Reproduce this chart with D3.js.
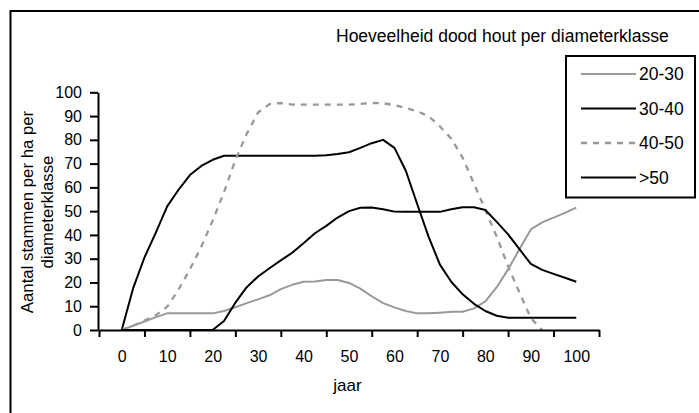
<!DOCTYPE html>
<html>
<head>
<meta charset="utf-8">
<script src="https://cdn.jsdelivr.net/npm/d3@7"></script>
<style>
  html, body { margin: 0; padding: 0; background: #fff; }
  svg { display: block; font-family: "Liberation Sans", Arial, sans-serif; }
</style>
</head>
<body>
<svg id="chart" width="699" height="413"></svg>
<script>
// Years (x) shared by all diameter classes
const years = [0, 2.5, 5, 7.5, 10, 12.5, 15, 17.5, 20, 22.5, 25, 27.5, 30, 32.5, 35, 37.5, 40, 42.5, 45, 47.5,
  50, 52.5, 55, 57.5, 60, 62.5, 65, 67.5, 70, 72.5, 75, 77.5, 80, 82.5, 85, 87.5, 90, 92.5, 95, 97.5, 100];

// Number of dead stems per ha, per diameter class (null = no value)
const class2030 = [0, 1.8, 3.6, 5.4, 7, 7, 7, 7, 7, 8, 9.6, 11.3, 12.9, 14.6, 17.2, 19, 20.3, 20.4, 21, 21,
  19.8, 17.4, 14.2, 11.3, 9.5, 8, 7, 7, 7.3, 7.7, 7.7, 9.1, 12, 18, 25.5, 34, 42.3, 45.3, 47.3, 49.3, 51.5];
const class3040 = [0, 17.5, 30.5, 41, 52, 59, 65.2, 69, 71.6, 73.3, 73.3, 73.3, 73.3, 73.3, 73.3, 73.3, 73.3, 73.3, 73.5, 74,
  74.8, 76.6, 78.6, 80, 76.6, 67, 53, 39.3, 27.5, 20.3, 15, 11, 8, 6, 5.2, 5.2, 5.2, 5.2, 5.2, 5.2, 5.2];
const class4050 = [0, 1.8, 4, 6.2, 9.8, 17, 25.5, 35, 46, 58, 71.5, 82.5, 91.5, 95, 95.5, 94.8, 94.8, 94.8, 94.8, 94.8,
  94.8, 95.1, 95.5, 95.4, 94.6, 93.4, 92, 90, 85.7, 80.5, 72.5, 61.5, 50.5, 39.3, 26.8, 15.8, 5, 0, null, null, null];
const class50plus = [0, 0, 0, 0, 0, 0, 0, 0, 0, 3.8, 11.5, 18, 22.5, 26, 29.3, 32.5, 36.5, 40.7, 43.8, 47.3,
  50, 51.4, 51.5, 50.8, 49.8, 49.7, 49.7, 49.7, 49.7, 50.8, 51.6, 51.6, 50.5, 45.5, 40.2, 34, 27.8, 25.3, 23.6, 22, 20.3];

const seriesNames = ["20-30", "30-40", "40-50", ">50"];
const seriesValues = [class2030, class3040, class4050, class50plus];

const xTickLabels = [0, 10, 20, 30, 40, 50, 60, 70, 80, 90, 100];
const yTickLabels = [0, 10, 20, 30, 40, 50, 60, 70, 80, 90, 100];

const titleText = "Hoeveelheid dood hout per diameterklasse";
const yTitleLines = ["Aantal stammen per ha per", "diameterklasse"];
const xTitleText = "jaar";

// Line styles per class
const styles = [
  { color: "#999999", dash: null },
  { color: "#000000", dash: null },
  { color: "#999999", dash: "6,6" },
  { color: "#000000", dash: null }
];

const svg = d3.select("#chart");

// Outer chart border (runs off the right and bottom edges)
svg.append("rect")
  .attr("x", 10.5).attr("y", 11)
  .attr("width", 720).attr("height", 430)
  .attr("fill", "#fff").attr("stroke", "#000").attr("stroke-width", 2);

const x = d3.scaleLinear().domain([-5, 105]).range([99, 599]);
const y = d3.scaleLinear().domain([0, 100]).range([330, 92.3]);

// Series
const line = d3.line()
  .defined(d => d != null)
  .x((d, i) => x(years[i]))
  .y(d => y(d));
const series = seriesNames.map((name, k) => ({ name, values: seriesValues[k], style: styles[k] }));

svg.append("g").selectAll("path").data(series).join("path")
  .attr("d", d => line(d.values))
  .attr("fill", "none")
  .attr("stroke", d => d.style.color)
  .attr("stroke-width", d => d.style.dash ? 2.3 : 2)
  .attr("stroke-dasharray", d => d.style.dash)
  .attr("stroke-linejoin", "round");

// Y axis
const yAxis = svg.append("g")
  .attr("transform", `translate(${x(-5) - 1},0)`)
  .call(d3.axisLeft(y).tickValues(yTickLabels).tickSize(8).tickSizeOuter(0).tickPadding(8));
yAxis.selectAll("path, line").attr("stroke", "#000").attr("stroke-width", 2);
yAxis.selectAll("text").attr("font-size", 16).attr("fill", "#000")
  .attr("font-family", "'Liberation Sans', Arial, sans-serif");

// X axis: tick marks between the year categories, labels centred
const xEdges = d3.range(-5, 106, 10);
const xAxis = svg.append("g")
  .attr("transform", `translate(0,${y(0)})`)
  .call(d3.axisBottom(x).tickValues(xEdges).tickSize(7).tickSizeOuter(0).tickFormat(""));
xAxis.selectAll("path, line").attr("stroke", "#000").attr("stroke-width", 2);

const xLabels = svg.append("g")
  .attr("transform", `translate(0,${y(0)})`)
  .call(d3.axisBottom(x).tickValues(xTickLabels).tickSize(0).tickPadding(21));
xLabels.select(".domain").remove();
xLabels.selectAll("text").attr("font-size", 16).attr("fill", "#000")
  .attr("font-family", "'Liberation Sans', Arial, sans-serif");

// Titles
svg.append("text")
  .attr("x", 336).attr("y", 42)
  .attr("font-size", 17.5).attr("fill", "#000")
  .text(titleText);

svg.append("text")
  .attr("x", 347.5).attr("y", 391)
  .attr("text-anchor", "middle")
  .attr("font-size", 17).attr("fill", "#000")
  .text(xTitleText);

const yTitle = svg.append("text")
  .attr("transform", "translate(27,212) rotate(-90)")
  .attr("text-anchor", "middle")
  .attr("font-size", 16.8).attr("fill", "#000");
yTitleLines.forEach((t, i) => {
  yTitle.append("tspan").attr("x", 0).attr("y", i * 20).attr("dy", "0.35em").text(t);
});

// Legend
const legend = svg.append("g");
legend.append("rect")
  .attr("x", 566).attr("y", 56).attr("width", 129).attr("height", 141.5)
  .attr("fill", "#fff").attr("stroke", "#000").attr("stroke-width", 2);
const rows = legend.selectAll("g.row").data(series).join("g")
  .attr("class", "row")
  .attr("transform", (d, i) => `translate(0,${74 + i * 34.5})`);
rows.append("line")
  .attr("x1", 581).attr("x2", 636)
  .attr("stroke", d => d.style.color)
  .attr("stroke-width", d => d.style.dash ? 2.3 : 2)
  .attr("stroke-dasharray", d => d.style.dash);
rows.append("text")
  .attr("x", 639).attr("dy", "0.35em")
  .attr("font-size", 17.5).attr("fill", "#000")
  .text(d => d.name);
</script>
</body>
</html>
